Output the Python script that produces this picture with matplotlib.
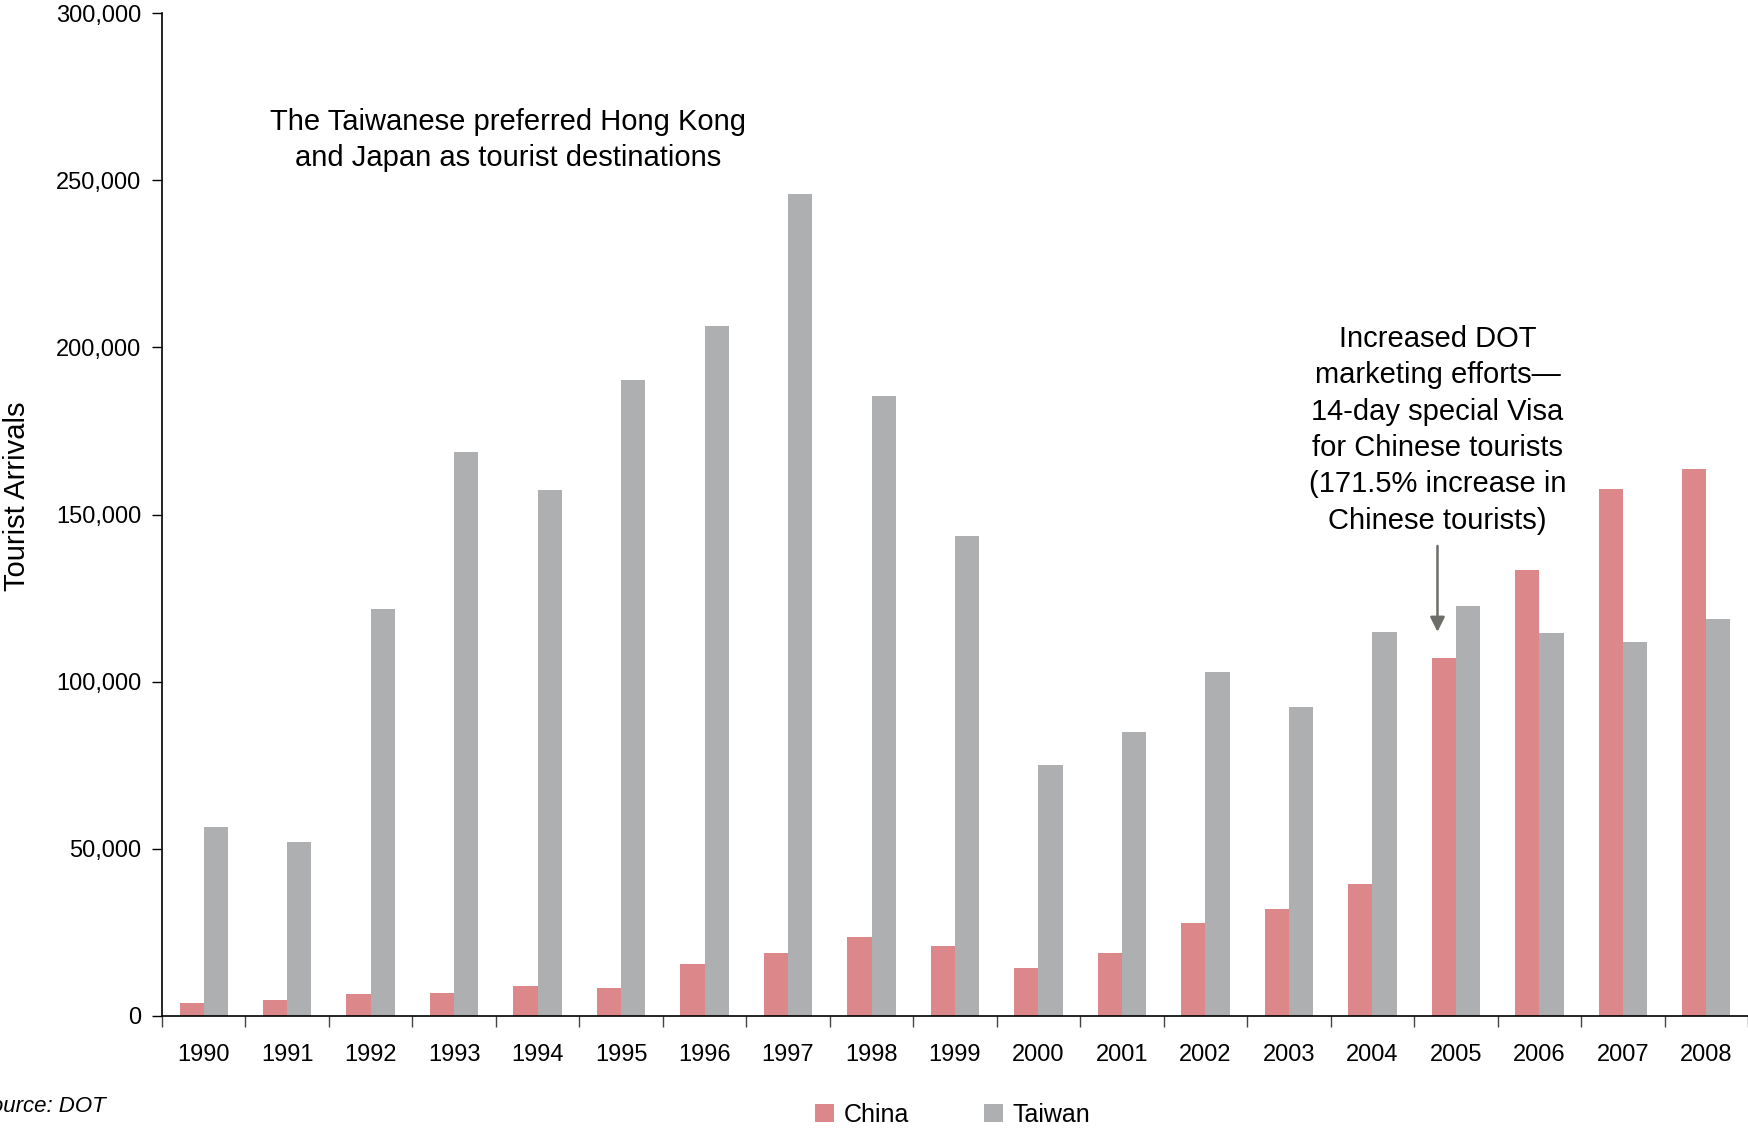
import numpy as np
import matplotlib
matplotlib.use("Agg")
import matplotlib.pyplot as plt
from matplotlib.ticker import FuncFormatter, FixedLocator

plt.rcParams['font.family'] = ['Liberation Sans Narrow', 'Liberation Sans', 'DejaVu Sans']

years = [str(y) for y in range(1990, 2009)]
china = [4000, 4700, 6700, 7000, 9000, 8300, 15700, 18700, 23700, 21000,
         14300, 18700, 27700, 32000, 39400, 107100, 133300, 157500, 163500]
taiwan = [56400, 52000, 121800, 168800, 157200, 190200, 206500, 245900, 185500, 143500,
          75100, 84800, 102800, 92400, 115000, 122500, 114700, 112000, 118600]

china_color = '#dc8789'
taiwan_color = '#aeafb1'

fig = plt.figure(figsize=(17.48, 11.32), dpi=100)
ax = fig.add_axes([162 / 1748, 1 - 1016 / 1132, 1 - 162 / 1748, (1016 - 13) / 1132])

x = np.arange(len(years))
w = 0.29
ax.bar(x - w / 2, china, width=w, color=china_color, label='China', linewidth=0)
ax.bar(x + w / 2, taiwan, width=w, color=taiwan_color, label='Taiwan', linewidth=0)

ax.set_xlim(-0.5, len(years) - 0.5)
ax.set_ylim(0, 300000)
ax.set_yticks(np.arange(0, 300001, 50000))
ax.yaxis.set_major_formatter(FuncFormatter(lambda v, p: f"{int(v):,}"))

ax.set_xticks(x)
ax.set_xticklabels(years)
ax.xaxis.set_minor_locator(FixedLocator(np.arange(-0.5, len(years), 1.0)))
ax.tick_params(axis='x', which='major', length=0, pad=20, labelsize=17)
ax.tick_params(axis='x', which='minor', length=8, width=1, color='#444444')
ax.tick_params(axis='y', length=7, width=1, pad=8, labelsize=17)

for s in ['top', 'right']:
    ax.spines[s].set_visible(False)
ax.spines['left'].set_linewidth(1.2)
ax.spines['bottom'].set_linewidth(1.2)

fig.text(17 / 1748, 1 - 496 / 1132, 'Tourist Arrivals', rotation=90,
         ha='center', va='center', fontsize=21)

ax.text(3.646, 262000, 'The Taiwanese preferred Hong Kong\nand Japan as tourist destinations',
        ha='center', va='center', fontsize=21, linespacing=1.38)

ax.text(14.78, 175300, 'Increased DOT\nmarketing efforts\u2014\n14-day special Visa\n'
        'for Chinese tourists\n(171.5% increase in\nChinese tourists)',
        ha='center', va='center', fontsize=21, linespacing=1.38)
ax.annotate('', xy=(14.78, 114900), xytext=(14.78, 140600),
            arrowprops=dict(arrowstyle='-|>', color='#6d6e69', lw=1.8,
                            mutation_scale=22, shrinkA=0, shrinkB=0))

fig.legend(loc='center', bbox_to_anchor=(0.545, 0.015), ncol=2, frameon=False,
           fontsize=18, handlelength=0.75, handleheight=0.75, handletextpad=0.4,
           columnspacing=3.0)

fig.text(106 / 1748, 1 - 1107 / 1132, 'Source: DOT', ha='right', va='center',
         fontsize=16, style='italic')

fig.savefig('out.png', dpi=100)
